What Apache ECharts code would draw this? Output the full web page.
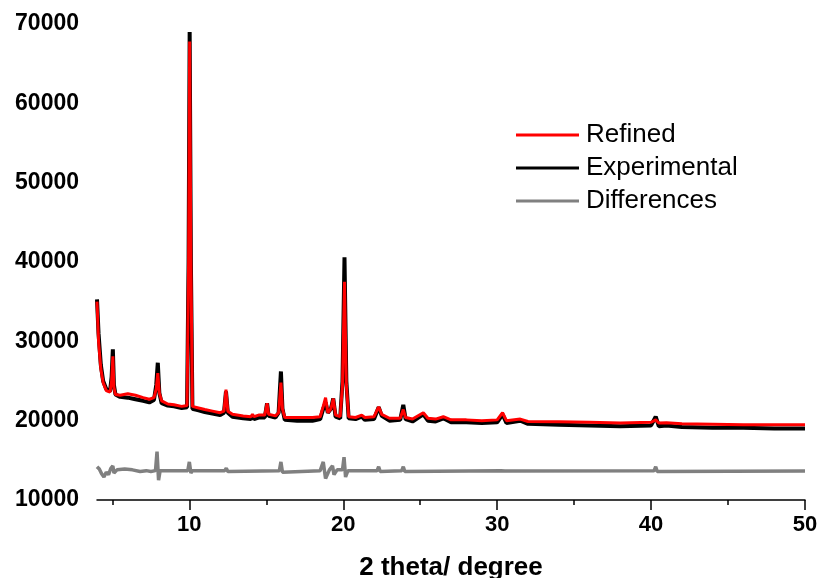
<!DOCTYPE html>
<html><head><meta charset="utf-8">
<script src="https://cdn.jsdelivr.net/npm/echarts@6/dist/echarts.min.js"></script>
<style>html,body{margin:0;padding:0;background:#fff}#c{width:819px;height:578px}</style>
</head><body><div id="c"></div>
<script>
var seriesNames = ['Refined', 'Experimental', 'Differences'];
var xMajorTicks = [10, 20, 30, 40, 50];
var xMinorTicks = [5, 15, 25, 35, 45];
var yTicks = [10000, 20000, 30000, 40000, 50000, 60000, 70000];

var experimental = [[4.0,35300],[4.1,31000],[4.25,27000],[4.4,25000],[4.6,24000],[4.85,23700],[4.95,25500],[5.03,29000],[5.1,24500],[5.2,23300],[5.5,23000],[6.0,22900],[6.5,22700],[7.0,22500],[7.4,22300],[7.7,22600],[7.85,24500],[7.95,27300],[8.05,23500],[8.2,22200],[8.6,21900],[9.0,21800],[9.5,21600],[9.85,21700],[9.95,40000],[10.02,69000],[10.1,40000],[10.2,21500],[10.6,21300],[11.0,21100],[11.5,20900],[12.0,20700],[12.25,21000],[12.38,23700],[12.5,21000],[12.8,20500],[13.5,20300],[14.0,20200],[14.1,20600],[14.2,20200],[14.5,20400],[14.9,20400],[15.05,22200],[15.15,20600],[15.4,20500],[15.6,20400],[15.8,21000],[15.95,26200],[16.05,21500],[16.2,20100],[17.0,20000],[18.0,20000],[18.5,20200],[18.7,21500],[18.85,22300],[19.0,21000],[19.2,21500],[19.35,22800],[19.5,20500],[19.8,20300],[19.95,25000],[20.08,40600],[20.2,25000],[20.35,20300],[20.8,20200],[21.2,20500],[21.4,20100],[22.0,20200],[22.3,21700],[22.5,20600],[23.0,20000],[23.7,20100],[23.9,22000],[24.05,20200],[24.5,19900],[25.2,20800],[25.5,20000],[26.0,19900],[26.5,20300],[27.0,19800],[28.0,19800],[29.0,19700],[30.0,19800],[30.35,20800],[30.6,19700],[31.5,20000],[32.0,19600],[34.0,19500],[36.0,19400],[38.0,19300],[40.0,19400],[40.3,20500],[40.5,19300],[41.0,19400],[42.0,19200],[44.0,19100],[46.0,19100],[48.0,19000],[50.0,19000]];

var refined = [[4.0,35000],[4.1,30000],[4.25,26500],[4.4,24800],[4.6,23800],[4.85,23600],[4.95,25000],[5.03,28100],[5.1,24200],[5.2,23300],[5.5,23200],[6.0,23400],[6.5,23200],[7.0,22900],[7.4,22700],[7.7,22900],[7.85,24000],[7.95,26000],[8.05,23500],[8.2,22500],[8.6,22100],[9.0,22000],[9.5,21800],[9.85,21900],[9.95,40000],[10.02,67800],[10.1,40000],[10.2,21800],[10.6,21600],[11.0,21400],[11.5,21200],[12.0,21000],[12.25,21200],[12.38,23900],[12.5,21200],[12.8,20800],[13.5,20600],[14.0,20500],[14.1,20800],[14.2,20500],[14.5,20700],[14.9,20700],[15.05,22200],[15.15,20800],[15.4,20700],[15.6,20600],[15.8,21000],[15.95,24800],[16.05,21500],[16.2,20400],[17.0,20400],[18.0,20400],[18.5,20500],[18.7,21800],[18.85,22900],[19.0,21000],[19.2,21500],[19.35,22800],[19.5,20700],[19.8,20500],[19.95,24500],[20.08,37500],[20.2,24500],[20.35,20500],[20.8,20400],[21.2,20700],[21.4,20400],[22.0,20500],[22.3,21750],[22.5,20800],[23.0,20300],[23.7,20300],[23.9,21400],[24.05,20400],[24.5,20200],[25.2,21000],[25.5,20300],[26.0,20200],[26.5,20500],[27.0,20100],[28.0,20100],[29.0,20000],[30.0,20100],[30.35,21000],[30.6,20000],[31.5,20200],[32.0,19900],[34.0,19850],[36.0,19800],[38.0,19700],[40.0,19800],[40.3,20100],[40.5,19700],[41.0,19750],[42.0,19600],[44.0,19550],[46.0,19500],[48.0,19500],[50.0,19500]];

var differences = [[4.0,14200],[4.15,13900],[4.3,13300],[4.45,12900],[4.6,13500],[4.75,13200],[4.9,14000],[5.03,14300],[5.1,13400],[5.3,13800],[5.8,13900],[6.3,13800],[6.8,13600],[7.2,13700],[7.5,13600],[7.8,13700],[7.9,16100],[8.0,12500],[8.1,13700],[8.5,13700],[9.9,13700],[10.0,14800],[10.1,13400],[10.2,13700],[12.3,13700],[12.4,14000],[12.5,13600],[12.6,13700],[15.85,13700],[15.95,14800],[16.05,13500],[16.15,13700],[18.5,13700],[18.7,14800],[18.85,12700],[19.1,13800],[19.3,14300],[19.4,13200],[19.6,13800],[19.95,13800],[20.05,15400],[20.15,12900],[20.3,13700],[22.2,13700],[22.3,14200],[22.4,13600],[22.5,13700],[23.8,13700],[23.9,14200],[24.0,13600],[24.1,13700],[30.25,13700],[30.35,13900],[30.5,13650],[40.2,13700],[40.3,14200],[40.4,13600],[40.5,13650],[50.0,13650]];

var FONT = '"Liberation Sans", Arial, sans-serif';
var chart = echarts.init(document.getElementById('c'), null, {renderer: 'canvas'});
chart.setOption({
  animation: false,
  backgroundColor: '#ffffff',
  grid: {left: 97, right: 14, top: 24, bottom: 78, outerBoundsMode: 'none', containLabel: false},
  legend: {
    data: seriesNames,
    orient: 'vertical',
    left: 511, top: 117,
    icon: 'rect', itemWidth: 63, itemHeight: 3, itemGap: 7,
    textStyle: {fontFamily: FONT, fontSize: 26, lineHeight: 26, color: '#000', padding: [0, 0, 0, 2]}
  },
  xAxis: [{
    type: 'value', min: 4, max: 50,
    name: '2 theta/ degree', nameLocation: 'middle', nameGap: 55,
    nameTextStyle: {fontFamily: FONT, fontSize: 26, fontWeight: 'bold', color: '#000'},
    axisLine: {show: true, onZero: false, lineStyle: {color: '#000', width: 1.5}},
    axisTick: {show: true, inside: false, length: 10, customValues: xMajorTicks, lineStyle: {color: '#000', width: 1.5}},
    axisLabel: {customValues: xMajorTicks, margin: 14, fontFamily: FONT, fontSize: 22, fontWeight: 'bold', color: '#000'},
    splitLine: {show: false}
  }, {
    type: 'value', min: 4, max: 50, position: 'bottom',
    axisLine: {show: false},
    axisTick: {show: true, length: 5, customValues: xMinorTicks, lineStyle: {color: '#000', width: 1.5}},
    axisLabel: {show: false},
    splitLine: {show: false}
  }],
  yAxis: {
    type: 'value', min: 10000, max: 70000, interval: 10000,
    axisLine: {show: false}, axisTick: {show: false}, splitLine: {show: false},
    axisLabel: {margin: 18, padding: [9, 0, 0, 0], fontFamily: FONT, fontSize: 23, fontWeight: 'bold', color: '#000',
      formatter: function (v) { return yTicks.indexOf(v) >= 0 ? String(v) : ''; }}
  },
  series: [
    {name: 'Differences', type: 'line', data: differences, showSymbol: false, symbol: 'none', lineStyle: {color: '#808080', width: 3.5}, itemStyle: {color: '#808080'}, z: 2},
    {name: 'Experimental', type: 'line', data: experimental, showSymbol: false, symbol: 'none', lineStyle: {color: '#000000', width: 4}, itemStyle: {color: '#000000'}, z: 3},
    {name: 'Refined', type: 'line', data: refined, showSymbol: false, symbol: 'none', lineStyle: {color: '#ff0000', width: 3}, itemStyle: {color: '#ff0000'}, z: 4}
  ]
});
</script></body></html>
